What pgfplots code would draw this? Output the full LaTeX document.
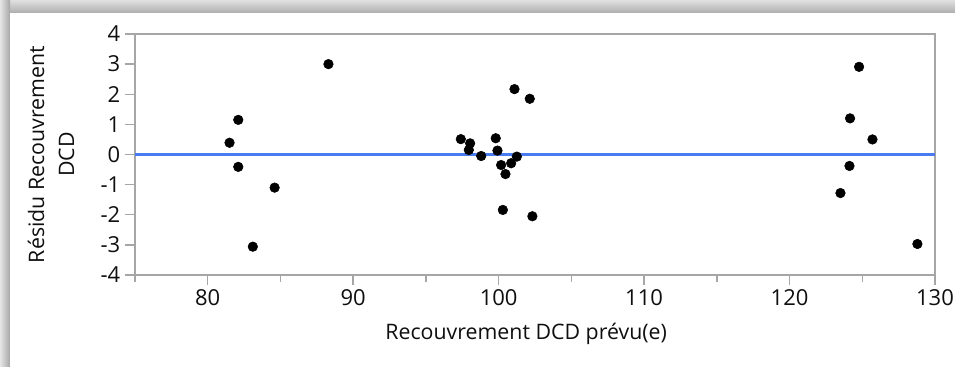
\documentclass[border=0pt]{standalone}
\usepackage{pgfplots}
\pgfplotsset{compat=1.18}
\usepackage{fontspec}
\setmainfont{Open Sans}
\definecolor{axgray}{RGB}{166,166,166}
\definecolor{zeroblue}{RGB}{72,124,240}
\definecolor{txt}{RGB}{15,15,15}
\begin{document}
\begin{tikzpicture}
\useasboundingbox (0pt,0pt) rectangle (716.25pt,-275.25pt);
\fill[white] (0pt,0pt) rectangle (716.25pt,-275.25pt);
\shade[top color=black!12, bottom color=black!32] (0pt,0pt) rectangle (716.25pt,-9.75pt);
\shade[left color=black!10, right color=black!35] (0pt,0pt) rectangle (7.5pt,-275.25pt);
\fill[white] (7.5pt,-9.75pt) rectangle (716.25pt,-275.25pt);
\begin{axis}[
  at={(101.25pt,-206.25pt)}, anchor=south west,
  scale only axis, width=600pt, height=180.75pt,
  xmin=75, xmax=130, ymin=-4, ymax=4,
  xtick={80,90,...,130}, minor xtick={75,85,...,125},
  ytick={-4,-3,...,4},
  yticklabels={-4,-3,-2,-1,0,1,2,3,4},
  xticklabels={80,90,100,110,120,130},
  tick align=outside, tick pos=left,
  major tick length=7.5pt, minor tick length=5pt,
  axis line style={axgray, line width=1.1pt},
  every tick/.style={axgray, line width=1.1pt},
  tick label style={font=\fontsize{16.5}{19}\selectfont, text=txt},
  xlabel={Recouvrement DCD prévu(e)},
  ylabel={Résidu Recouvrement\\DCD},
  xlabel style={at={(axis description cs:0.489,-0.245)}, anchor=center, font=\fontsize{16}{19}\selectfont, text=txt},
  ylabel style={at={(axis description cs:-0.105,0.5)}, anchor=center, rotate=0, align=center, font=\fontsize{16}{22.5}\selectfont, text=txt},
  clip=false,
]
\addplot[zeroblue, line width=2.25pt, forget plot] coordinates {(75,0) (130,0)};
\addplot[only marks, mark=*, mark size=3.6pt, black] coordinates {
(81.5,0.39) (82.1,1.15) (82.1,-0.41) (84.6,-1.10) (83.1,-3.06)
(88.3,3.0)
(101.09,2.17) (102.14,1.85) (97.4,0.51) (98.04,0.37) (97.95,0.15)
(98.8,-0.05) (99.8,0.54) (99.92,0.13) (100.17,-0.35) (100.86,-0.29)
(101.25,-0.07) (100.47,-0.65) (100.29,-1.84) (102.32,-2.05)
(124.78,2.91) (124.16,1.20) (125.7,0.50) (124.12,-0.38) (123.5,-1.28) (128.79,-2.97)
};
\end{axis}
\end{tikzpicture}
\end{document}
